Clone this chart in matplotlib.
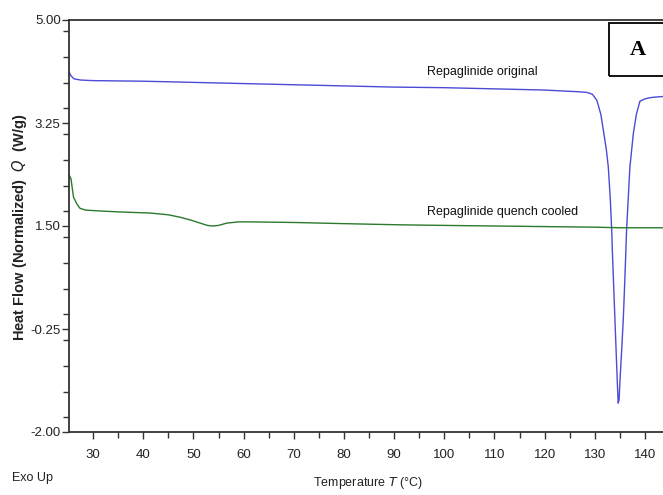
import numpy as np
import matplotlib
matplotlib.use("Agg")
import matplotlib.pyplot as plt
from matplotlib.patches import Rectangle
from matplotlib.ticker import MultipleLocator

# DSC traces, temperature in degC, heat flow in W/g
t_orig = [25.2, 25.6, 26.2, 27.5, 30, 40, 50, 60, 70, 80, 90, 100, 110, 120,
          124.5, 127, 128.4, 129.5, 130.4, 131.2, 131.8, 132.3, 132.7, 133.1,
          133.4, 133.5, 134.0, 134.5, 134.67, 134.85, 135.0, 135.4, 135.7,
          136.0, 136.2, 136.35, 137.0, 137.7, 138.3, 139.0, 140.0, 141.0,
          142.0, 143.6]
q_orig = [4.12, 4.05, 4.00, 3.98, 3.97, 3.96, 3.94, 3.92, 3.90, 3.88, 3.86,
          3.85, 3.83, 3.81, 3.79, 3.78, 3.77, 3.74, 3.64, 3.40, 3.08, 2.80,
          2.50, 1.95, 1.38, 1.09, -0.05, -1.17, -1.51, -1.45, -1.17, -0.55,
          -0.05, 0.60, 1.09, 1.45, 2.50, 3.08, 3.40, 3.62, 3.66, 3.68, 3.69,
          3.70]

t_qc = [25.2, 25.6, 26.1, 26.8, 27.4, 28.5, 31.4, 35, 41.4, 45, 47.3, 49.5,
        51.3, 52.8, 53.9, 55.0, 56.7, 59, 61.3, 70, 80, 91.2, 100, 110, 120,
        130, 135, 140, 143.6]
q_qc = [2.37, 2.30, 1.99, 1.87, 1.80, 1.77, 1.755, 1.74, 1.72, 1.69, 1.65,
        1.60, 1.55, 1.51, 1.50, 1.51, 1.55, 1.57, 1.57, 1.56, 1.54, 1.52,
        1.51, 1.50, 1.49, 1.48, 1.47, 1.47, 1.47]

y_ticks = [5.00, 3.25, 1.50, -0.25, -2.00]
x_ticks = [30, 40, 50, 60, 70, 80, 90, 100, 110, 120, 130, 140]

sans = ['Liberation Sans', 'DejaVu Sans']

fig = plt.figure(figsize=(6.63, 4.95), dpi=100)
ax = fig.add_axes([69/663, 63/495, 594/663, 412/495])

ax.plot(t_orig, q_orig, color='#4b4bd6', lw=1.0)
ax.plot(t_qc, q_qc, color='#2a7a2a', lw=1.0)

ax.set_xlim(25.2, 143.6)
ax.set_ylim(-2.0, 5.0)
ax.set_xticks(x_ticks)
ax.set_yticks(y_ticks)
ax.set_yticklabels(['%.2f' % v for v in y_ticks], family=sans, fontsize=9.5,
                   color='#222222')
ax.set_xticklabels([str(v) for v in x_ticks], family=sans, fontsize=9.5,
                   color='#222222')
ax.xaxis.set_minor_locator(MultipleLocator(5))
ax.yaxis.set_minor_locator(MultipleLocator(0.4375))
ax.tick_params(which='both', direction='out', color='#333333', width=1)
ax.tick_params(which='major', length=5, pad=1)
ax.tick_params(which='minor', length=4)
ax.tick_params(axis='x', which='major', pad=7)

ax.spines['right'].set_visible(False)
for s in ['left', 'bottom', 'top']:
    ax.spines[s].set_color('#333333')
    ax.spines[s].set_linewidth(1.3)

ax.text(96.6, 4.12, 'Repaglinide original', family=sans, fontsize=9,
        ha='left', va='center', color='#111111')
ax.text(96.6, 1.74, 'Repaglinide quench cooled', family=sans, fontsize=9,
        ha='left', va='center', color='#111111')

fig.text(20/663, 1 - 227/495, 'Heat Flow (Normalized)  $\\mathit{Q}$  (W/g)',
         rotation=90, ha='center', va='center', fontsize=10.5,
         fontweight='bold', family=sans, color='#222222')
fig.text(12/663, 1 - 478/495, 'Exo Up', family=sans, fontsize=9,
         ha='left', va='center', color='#222222')
fig.text(368/663, 1 - 483/495, 'Temperature $\\mathit{T}$ (\u00b0C)',
         family=sans, fontsize=9, ha='center', va='center', color='#222222')

# panel letter in a box at the upper right corner
fig.patches.append(Rectangle((609/663, 1 - 76/495), 70/663, 53/495,
                             transform=fig.transFigure, fill=False,
                             edgecolor='black', lw=1.3))
fig.text(638/663, 1 - 50/495, 'A', family='Liberation Serif', fontsize=16,
         fontweight='bold', ha='center', va='center')

fig.savefig('out.png', dpi=100)
